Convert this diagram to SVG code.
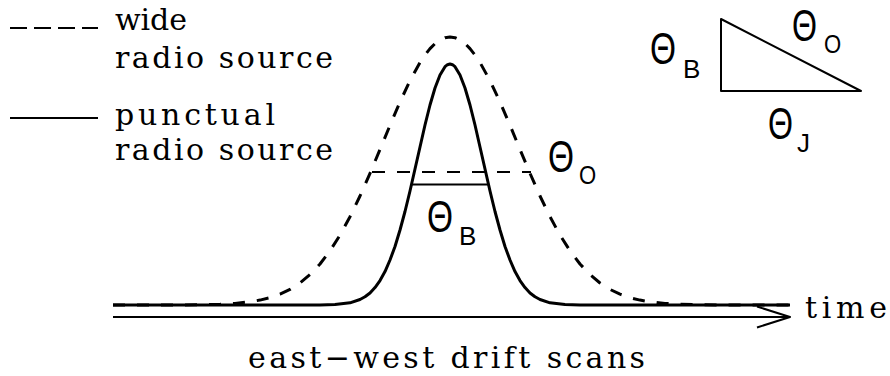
<svg xmlns="http://www.w3.org/2000/svg" width="890" height="376" viewBox="0 0 890 376">
<style>
.serif{font-family:"DejaVu Serif","Liberation Serif",serif;font-size:30px;fill:#000}
.theta{font-family:"Liberation Sans",Arial,sans-serif;font-size:44px;fill:#000}
.sub{font-family:"Liberation Sans",Arial,sans-serif;font-size:26px;fill:#000}
.ln{fill:none;stroke:#000;stroke-linejoin:round;stroke-linecap:butt}
</style>
<rect width="890" height="376" fill="#fff"/>
<g id="legend">
<line class="ln" x1="10" y1="28" x2="98" y2="28" stroke-width="2.2" stroke-dasharray="17 7"/>
<line class="ln" x1="10" y1="118" x2="98" y2="118" stroke-width="2.2"/>
<text class="serif" x="115" y="30" textLength="72" lengthAdjust="spacing">wide</text>
<text class="serif" x="115" y="68" textLength="218" lengthAdjust="spacing">radio source</text>
<text class="serif" x="115" y="125" textLength="160" lengthAdjust="spacing">punctual</text>
<text class="serif" x="115" y="160" textLength="218" lengthAdjust="spacing">radio source</text>
</g>
<g id="connectors">
<path id="punctual-curve" class="ln" stroke-width="3" d="M113,305 L320,305 L335,304.5 L350,302.8 L360,299.5 L365,296.8 L370,293 L375,287.6 L380,280.6 L385,271.6 L390,260 L395,246.5 L400,230 L405,211.5 L410,191 L415,169 L420,147 L425,125 L430,105 L435,88 L440,75 L445,66.7 L447.5,64.7 L450,64 L452.5,64.7 L455,66.7 L460,75 L465,88 L470,105 L475,125 L480,147 L485,169 L490,191 L495,211.5 L500,230 L505,246.5 L510,260 L515,271.6 L520,280.6 L525,287.6 L530,293 L535,296.8 L540,299.5 L550,302.8 L565,304.5 L580,305 L790,305"/>
<path id="wide-curve" class="ln" stroke-width="3" stroke-dasharray="12 12" d="M113,305 L180,305 L200,304.7 L220,304.2 L235,303.4 L250,301.8 L260,300.1 L270,297.7 L280,294.2 L290,289.4 L300,283 L310,274.6 L320,264 L330,250.8 L340,235.1 L350,216.7 L360,196 L370,173.3 L380,149.5 L390,125.3 L400,102 L410,80.6 L420,62.5 L425,55 L430,48.6 L435,43.6 L440,40 L445,37.7 L450,37 L455,37.7 L460,40 L465,43.6 L470,48.6 L475,55 L480,62.5 L490,80.6 L500,102 L510,125.3 L520,149.5 L530,173.3 L540,196 L550,216.7 L560,235.1 L570,250.8 L580,264 L590,274.6 L600,283 L610,289.4 L620,294.2 L630,297.7 L640,300.1 L650,301.8 L665,303.4 L680,304.2 L700,304.7 L720,305 L790,305"/>
<line id="fwhm-wide" class="ln" x1="372" y1="172" x2="531" y2="172" stroke-width="2" stroke-dasharray="13 12"/>
<line id="fwhm-punctual" class="ln" x1="412" y1="184.5" x2="489" y2="184.5" stroke-width="2"/>
<line id="time-axis" class="ln" x1="113" y1="317" x2="789" y2="317" stroke-width="2"/>
<polyline id="time-arrow" class="ln" points="757,306.5 790,317 757,327.5" stroke-width="2"/>
</g>
<g id="triangle">
<polygon class="ln" points="721,19 721,91 861,91" stroke-width="2"/>
</g>
<g id="label-thetaB-tri">
<text class="theta" transform="matrix(0.76 0 0 1 650 64)">Θ</text>
<text class="sub" x="683" y="78">B</text>
</g>
<g id="label-thetaO-tri">
<text class="theta" transform="matrix(0.73 0 0 1 792 41)">Θ</text>
<text class="sub" transform="matrix(0.85 0 0 1 824 52.5)">O</text>
</g>
<g id="label-thetaJ-tri">
<text class="theta" transform="matrix(0.73 0 0 1 768 139)">Θ</text>
<text class="sub" x="797" y="151.5">J</text>
</g>
<g id="label-thetaO-mid">
<text class="theta" transform="matrix(0.76 0 0 1 548 172)">Θ</text>
<text class="sub" transform="matrix(0.85 0 0 1 579 183.5)">O</text>
</g>
<g id="label-thetaB-mid">
<text class="theta" transform="matrix(0.76 0 0 1 427 232)">Θ</text>
<text class="sub" x="459" y="245">B</text>
</g>
<g id="axis-labels">
<text class="serif" x="805" y="318" textLength="82" lengthAdjust="spacing">time</text>
<text class="serif" x="248" y="368" textLength="397" lengthAdjust="spacing">east−west drift scans</text>
</g>
</svg>
